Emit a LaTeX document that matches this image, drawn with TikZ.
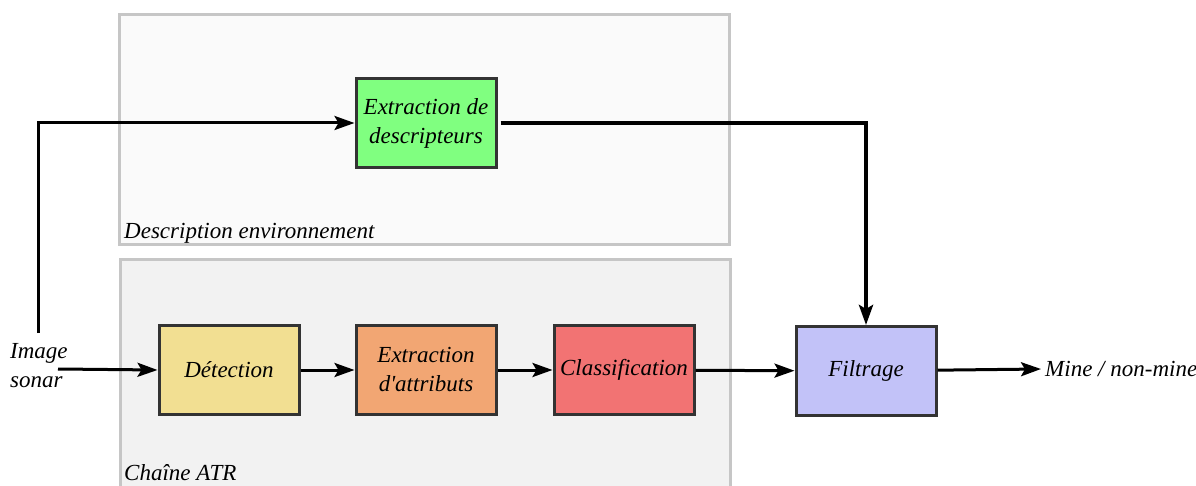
\documentclass[tikz,border=0pt]{standalone}
\usepackage{fontspec}
\setmainfont{Liberation Serif}
\usetikzlibrary{arrows.meta}

\definecolor{envfill}{HTML}{FAFAFA}
\definecolor{atrfill}{HTML}{F2F2F2}
\definecolor{groupline}{HTML}{C6C6C6}
\definecolor{boxline}{HTML}{333333}
\definecolor{descgreen}{HTML}{80FF80}
\definecolor{detyellow}{HTML}{F2DF92}
\definecolor{extorange}{HTML}{F2A673}
\definecolor{clsred}{HTML}{F27373}
\definecolor{filtblue}{HTML}{C2C2F8}

\begin{document}
\begin{tikzpicture}[x=1pt,y=-1pt,
    font=\fontsize{23}{29}\selectfont\itshape,
    flow/.style={line width=3pt,-{Stealth[length=20pt,width=14pt,inset=4pt]}}]

      \useasboundingbox (0,0) rectangle (1196,486);
      \clip (0,0) rectangle (1196,486);

      \begin{scope}[every node/.style={draw=groupline,line width=3pt,inner sep=0pt,anchor=north west}]
        \node[fill=envfill,minimum width=610pt,minimum height=230pt] (env) at (118,13)  {};
        \node[fill=atrfill,minimum width=610pt,minimum height=250pt] (atr) at (119,258) {};
      \end{scope}

      \node[anchor=base west,inner sep=0pt] (envlabel) at (124,239) {Description environnement};
      \node[anchor=base west,inner sep=0pt] (atrlabel) at (124,480) {Chaîne ATR};

      \begin{scope}[every node/.style={draw=boxline,line width=3pt,align=center,
          minimum width=140pt,minimum height=89pt,inner sep=2pt}]
        \node[fill=descgreen] (desc) at (426,123) {Extraction de\\descripteurs};
        \node[fill=detyellow] (det)  at (229,370) {Détection};
        \node[fill=extorange] (ext)  at (426,370) {Extraction\\d\textquotesingle attributs};
        \node[fill=clsred]    (cls)  at (624,370) {Classification};
        \node[fill=filtblue]  (filt) at (866,371) {Filtrage};
      \end{scope}

      \node[align=left,inner sep=0pt,anchor=west] (img) at (10,366) {Image\\sonar};
      \node[inner sep=0pt,anchor=west] (out) at (1045,369) {Mine / non-mine};

      \coordinate (up)  at (38,333);
      \coordinate (src) at (58,369);

      \draw[flow] (up) |- (desc.west);
      \draw[flow] (src) -- (det.west);
      \draw[flow] (det) -- (ext);
      \draw[flow] (ext) -- (cls);
      \draw[flow] (cls) -- (filt);
      \draw[flow] (filt) -- ([xshift=-4pt]out.west);
      \draw[flow,line width=4pt,shorten <=3pt] (desc.east) -| (filt.north);

    \end{tikzpicture}
\end{document}
